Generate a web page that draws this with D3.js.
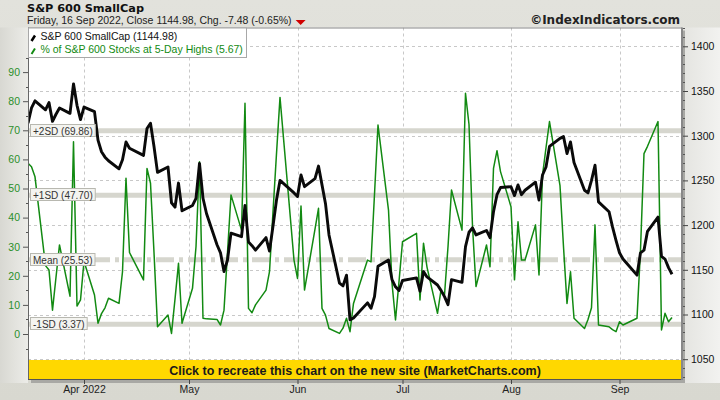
<!DOCTYPE html>
<html><head><meta charset="utf-8">
<script src="https://cdn.jsdelivr.net/npm/d3@7"></script>
<style>body{margin:0;background:#fff}svg{display:block}</style>
</head><body><svg id="c" width="720" height="400"></svg>
<script>
// ---------------- DATA ----------------
const tradingDates = [
 "2022-03-16","2022-03-17","2022-03-18","2022-03-21","2022-03-22","2022-03-23","2022-03-24","2022-03-25","2022-03-28","2022-03-29","2022-03-30","2022-03-31",
 "2022-04-01","2022-04-04","2022-04-05","2022-04-06","2022-04-07","2022-04-08","2022-04-11","2022-04-12","2022-04-13","2022-04-14","2022-04-18","2022-04-19","2022-04-20","2022-04-21","2022-04-22","2022-04-25","2022-04-26","2022-04-27","2022-04-28","2022-04-29",
 "2022-05-02","2022-05-03","2022-05-04","2022-05-05","2022-05-06","2022-05-09","2022-05-10","2022-05-11","2022-05-12","2022-05-13","2022-05-16","2022-05-17","2022-05-18","2022-05-19","2022-05-20","2022-05-23","2022-05-24","2022-05-25","2022-05-26","2022-05-27","2022-05-31",
 "2022-06-01","2022-06-02","2022-06-03","2022-06-06","2022-06-07","2022-06-08","2022-06-09","2022-06-10","2022-06-13","2022-06-14","2022-06-15","2022-06-16","2022-06-17","2022-06-21","2022-06-22","2022-06-23","2022-06-24","2022-06-27","2022-06-28","2022-06-29","2022-06-30",
 "2022-07-01","2022-07-05","2022-07-06","2022-07-07","2022-07-08","2022-07-11","2022-07-12","2022-07-13","2022-07-14","2022-07-15","2022-07-18","2022-07-19","2022-07-20","2022-07-21","2022-07-22","2022-07-25","2022-07-26","2022-07-27","2022-07-28","2022-07-29",
 "2022-08-01","2022-08-02","2022-08-03","2022-08-04","2022-08-05","2022-08-08","2022-08-09","2022-08-10","2022-08-11","2022-08-12","2022-08-15","2022-08-16","2022-08-17","2022-08-18","2022-08-19","2022-08-22","2022-08-23","2022-08-24","2022-08-25","2022-08-26","2022-08-29","2022-08-30","2022-08-31",
 "2022-09-01","2022-09-02","2022-09-06","2022-09-07","2022-09-08","2022-09-09","2022-09-12","2022-09-13","2022-09-14","2022-09-15","2022-09-16"
];
const smallCap = [
 1314,1331,1339,1329,1337,1316,1324,1331,1325,1358,1334,1318,
 1332,1327,1295,1282,1276,1272,1263,1273,1293,1286,1278,1308,1314,1288,1259,1265,1225,1220,1247,1216,
 1222,1230,1269,1230,1213,1178,1169,1148,1161,1191,1187,1222,1181,1177,1172,1186,1171,1199,1228,1250,1236,
 1232,1256,1243,1252,1266,1245,1224,1189,1135,1132,1144,1094,1096,1113,1107,1120,1154,1161,1139,1131,1127,
 1138,1141,1126,1148,1142,1133,1127,1120,1111,1139,1136,1176,1192,1197,1189,1194,1186,1215,1234,1242,
 1243,1233,1245,1234,1239,1248,1228,1256,1265,1288,1297,1299,1280,1293,1270,1239,1236,1250,1267,1226,1215,1198,1183,
 1169,1162,1144,1169,1172,1193,1209,1165,1162,1152.46,1144.98
];
const pctHighs = [
 58.7,57.5,54,23.5,22,8.2,19.5,30.6,13,66.1,9.6,11.7,
 25,13.4,3.7,7,9,12.3,10.5,21.4,53.5,28,18.6,56.9,51.8,28,2.5,6.5,0.2,12,24.3,3.7,
 15.7,30,59.2,5.4,5.2,5,3.1,8.2,28,47.8,35.7,79.3,8.8,7.3,10,15.1,21.4,42,62,81.3,25.4,
 19.1,44,15.1,36,43.2,8.8,6.5,1.9,0.2,2,5.4,0.8,10.5,25.4,24.8,48,71.8,42.6,17.5,4.8,18,
 31.7,34.6,11.7,31.2,23,7.1,15.1,13.4,30,49.5,35.7,82.7,72,37,16.3,30.6,23.1,56.9,63,55.8,
 43.7,18.6,38.6,25.4,25.4,37.5,20.3,54.6,64,73,51,30,10.5,21.4,5.4,1.9,5,9,37.5,3.1,2.5,1.5,0.8,
 4.2,3.1,5.4,28.9,62,64.5,73,1.4,7.1,4.2,5.67
];
const sdLevels = [69.86, 47.70, 25.53, 3.37];
const sdLabels = ["+2SD (69.86)", "+1SD (47.70)", "Mean (25.53)", "-1SD (3.37)"];
const leftTicks = [0,10,20,30,40,50,60,70,80,90];
const rightTicks = [1050,1100,1150,1200,1250,1300,1350,1400];
const monthTicks = ["2022-04-01","2022-05-01","2022-06-01","2022-07-01","2022-08-01","2022-09-01"];
const monthLabels = ["Apr 2022","May","Jun","Jul","Aug","Sep"];
const titleText = "S&P 600 SmallCap";
const subtitleText = "Friday, 16 Sep 2022, Close 1144.98, Chg. -7.48 (-0.65%)";
const legendLabels = ["S&P 600 SmallCap (1144.98)", "% of S&P 600 Stocks at 5-Day Highs (5.67)"];

// ---------------- LAYOUT ----------------
const W = 720, H = 400;
const P = {l: 28, r: 682, t: 27.5, b: 380};
const parse = d3.utcParse("%Y-%m-%d");
const dates = tradingDates.map(parse);

const x = d3.scaleUtc().domain([Date.UTC(2022,2,16), Date.UTC(2022,8,19)]).range([P.l, P.r + 0.5]);
const yR = d3.scaleLinear().domain([1050, 1400]).range([359.2, 46.3]);
const yL = d3.scaleLinear().domain([0, 90]).range([334, 72.1]);

const svg = d3.select("#c");
const defs = svg.append("defs");
const bg = defs.append("linearGradient").attr("id","bg").attr("x1",0).attr("y1",0).attr("x2",0).attr("y2",1);
bg.append("stop").attr("offset","0%").attr("stop-color","#e2e2dc");
bg.append("stop").attr("offset","100%").attr("stop-color","#d8d8d0");
const rg = defs.append("linearGradient").attr("id","rg").attr("x1",0).attr("y1",0).attr("x2",1).attr("y2",0);
rg.append("stop").attr("offset","0%").attr("stop-color","#e4e4e0");
rg.append("stop").attr("offset","100%").attr("stop-color","#f2f2f0");
const lg = defs.append("linearGradient").attr("id","lg").attr("x1",0).attr("y1",0).attr("x2",1).attr("y2",0);
lg.append("stop").attr("offset","0%").attr("stop-color","#d8d8d2");
lg.append("stop").attr("offset","100%").attr("stop-color","#ececE8");
const clip = defs.append("clipPath").attr("id","pc");
clip.append("rect").attr("x",P.l).attr("y",P.t).attr("width",P.r-P.l).attr("height",P.b-P.t);

svg.append("rect").attr("width",W).attr("height",H).attr("fill","url(#bg)");
svg.append("rect").attr("x",0).attr("y",P.t).attr("width",P.l).attr("height",P.b-P.t+3).attr("fill","url(#lg)");
svg.append("rect").attr("x",P.r).attr("y",P.t).attr("width",W-P.r).attr("height",P.b-P.t+3).attr("fill","url(#rg)");

// drop shadow
svg.append("rect").attr("x",P.l+3).attr("y",P.t+3).attr("width",P.r-P.l).attr("height",P.b-P.t).attr("fill","#a8a8a4");
// plot bg
svg.append("rect").attr("x",P.l).attr("y",P.t).attr("width",P.r-P.l).attr("height",P.b-P.t).attr("fill","#ffffff");

const plot = svg.append("g").attr("clip-path","url(#pc)");

// gridlines
plot.selectAll("line.hg").data(rightTicks).join("line")
  .attr("x1",P.l).attr("x2",P.r).attr("y1",d=>Math.round(yR(d))+0.5).attr("y2",d=>Math.round(yR(d))+0.5)
  .attr("stroke","#c8c8c8").attr("stroke-dasharray","3,3");
plot.selectAll("line.vg").data(monthTicks).join("line")
  .attr("y1",P.t).attr("y2",P.b).attr("x1",d=>Math.round(x(parse(d)))+0.5).attr("x2",d=>Math.round(x(parse(d)))+0.5)
  .attr("stroke","#c8c8c8").attr("stroke-dasharray","3,3");

// SD bands
plot.selectAll("line.sd").data(sdLevels).join("line")
  .attr("x1",P.l).attr("x2",P.r).attr("y1",d=>yL(d)).attr("y2",d=>yL(d))
  .attr("stroke","#d6d6ce").attr("stroke-width",5)
  .attr("stroke-dasharray",(d,i)=> i===2 ? "18,5,4,5" : null);

// lines
const gLine = d3.line().x((d,i)=>x(dates[i])).y(d=>yL(d));
const bLine = d3.line().x((d,i)=>x(dates[i])).y(d=>yR(d));
plot.append("path").datum(pctHighs).attr("d",gLine).attr("fill","none")
  .attr("stroke","#128a12").attr("stroke-width",1.5).attr("stroke-linejoin","round");
plot.append("path").datum(smallCap).attr("d",bLine).attr("fill","none")
  .attr("stroke","#0a0a0a").attr("stroke-width",2.9).attr("stroke-linejoin","round");

// SD labels
const lbl = svg.append("g");
sdLevels.forEach((v,i)=>{
  const g = lbl.append("g");
  const r = g.append("rect").attr("x",30.5).attr("y",Math.round(yL(v))-6.5).attr("height",12)
    .attr("fill","#f4f4f0").attr("stroke","#b8b8b0");
  const t = g.append("text").attr("x",33).attr("y",Math.round(yL(v))+3.5)
    .attr("font-family","Liberation Sans, Arial, sans-serif").attr("font-size",10)
    .attr("fill","#333").text(sdLabels[i]);
  r.attr("width", t.node().getComputedTextLength()+5);
});

// banner
svg.append("rect").attr("x",P.l).attr("y",360).attr("width",P.r-P.l).attr("height",P.b-360).attr("fill","#ffd800");
svg.append("text").attr("x",(P.l+P.r)/2).attr("y",374.5).attr("text-anchor","middle")
  .attr("font-family","Liberation Sans, Arial, sans-serif").attr("font-weight","bold").attr("font-size",12.5)
  .attr("fill","#1a1a1a").text("Click to recreate this chart on the new site (MarketCharts.com)");

// frame
svg.append("line").attr("x1",P.l+0.5).attr("x2",P.l+0.5).attr("y1",P.t).attr("y2",P.b).attr("stroke","#666");
svg.append("line").attr("x1",P.l).attr("x2",P.r).attr("y1",P.t+0.5).attr("y2",P.t+0.5).attr("stroke","#888");
svg.append("line").attr("x1",P.l).attr("x2",P.r).attr("y1",P.b-0.5).attr("y2",P.b-0.5).attr("stroke","#555");
svg.append("line").attr("x1",P.r).attr("x2",P.r).attr("y1",P.t).attr("y2",P.b).attr("stroke","#888").attr("stroke-width",2);

// right axis
const ra = svg.append("g").attr("transform",`translate(${P.r+1},0)`)
  .call(d3.axisRight(yR).tickValues(rightTicks).tickSize(5).tickPadding(3).tickFormat(d3.format("d")));
ra.select(".domain").remove();
ra.selectAll("line").attr("stroke","#444");
ra.selectAll("text").attr("font-family","Liberation Sans, Arial, sans-serif").attr("font-size",10.5).attr("fill","#111");
const rMinor = d3.range(1030,1421,10).filter(v=>v%50!==0);
svg.append("g").selectAll("line").data(rMinor).join("line")
  .attr("x1",P.r+1).attr("x2",P.r+3).attr("y1",d=>Math.round(yR(d))+0.5).attr("y2",d=>Math.round(yR(d))+0.5)
  .attr("stroke","#555");

// left axis
const la = svg.append("g").attr("transform",`translate(${P.l},0)`)
  .call(d3.axisLeft(yL).tickValues(leftTicks).tickSize(5).tickPadding(3));
la.select(".domain").remove();
la.selectAll("line").attr("stroke","#555");
la.selectAll("text").attr("font-family","Liberation Sans, Arial, sans-serif").attr("font-size",10.5).attr("fill","#2a8f2a");
const lMinor = d3.range(-5,100,10);
svg.append("g").selectAll("line").data(lMinor).join("line")
  .attr("x1",P.l-2).attr("x2",P.l).attr("y1",d=>Math.round(yL(d))+0.5).attr("y2",d=>Math.round(yL(d))+0.5)
  .attr("stroke","#555");

// x axis
const xa = svg.append("g").attr("transform",`translate(0,${P.b})`)
  .call(d3.axisBottom(x).tickValues(monthTicks.map(parse)).tickSize(4).tickPadding(2)
    .tickFormat((d,i)=>monthLabels[i]));
xa.select(".domain").remove();
xa.selectAll("line").attr("stroke","#444");
xa.selectAll("text").attr("font-family","Liberation Sans, Arial, sans-serif").attr("font-size",10.5).attr("fill","#222");

// legend
const lgd = svg.append("g");
lgd.append("rect").attr("x",P.l+0.5).attr("y",P.t+0.5).attr("width",218).attr("height",29.5)
  .attr("fill","#ffffff").attr("stroke","#a8a8a8");
lgd.append("line").attr("x1",31.5).attr("y1",41).attr("x2",35).attr("y2",35.5).attr("stroke","#000").attr("stroke-width",2.5);
lgd.append("line").attr("x1",31.5).attr("y1",54).attr("x2",35).attr("y2",48.5).attr("stroke","#128a12").attr("stroke-width",2);
lgd.append("text").attr("x",40.5).attr("y",39.5).attr("font-family","Liberation Sans, Arial, sans-serif").attr("font-size",10.5).attr("fill","#111").text(legendLabels[0]);
lgd.append("text").attr("x",40.5).attr("y",52.5).attr("font-family","Liberation Sans, Arial, sans-serif").attr("font-size",10.5).attr("fill","#128a12").text(legendLabels[1]);

// titles
svg.append("text").attr("x",27).attr("y",12).attr("font-family","DejaVu Sans, Verdana, sans-serif").attr("font-weight","bold").attr("font-size",11.3).attr("fill","#111").text(titleText);
const st = svg.append("text").attr("x",27).attr("y",24).attr("font-family","Liberation Sans, Arial, sans-serif").attr("font-size",10.5).attr("fill","#222").text(subtitleText);
const stw = st.node().getComputedTextLength();
svg.append("path").attr("d",`M${27+stw+4},20 l10,0 l-5,5 z`).attr("fill","#d00000");
svg.append("text").attr("x",680).attr("y",24).attr("text-anchor","end").attr("font-family","DejaVu Sans, Verdana, sans-serif").attr("font-weight","bold").attr("font-size",12).attr("fill","#222").text("©IndexIndicators.com");
</script></body></html>
